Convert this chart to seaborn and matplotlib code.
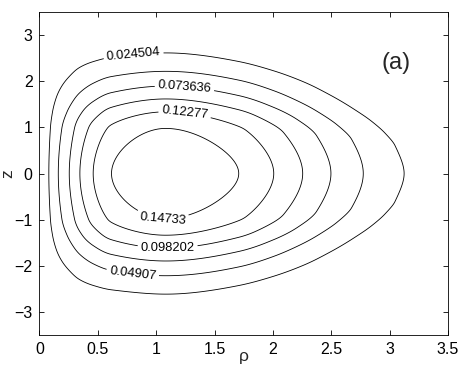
import numpy as np
import matplotlib
matplotlib.use("Agg")
import matplotlib.pyplot as plt
import seaborn as sns

# ---- data ----
levels = [0.024504, 0.04907, 0.073636, 0.098202, 0.12277, 0.14733]
psi_max = 0.1719
rho_axis = 1.08
# crossings of each contour with z = 0 (left / right of the axis)
rho_left = [0.080, 0.161, 0.255, 0.346, 0.460, 0.617]
rho_right = [3.124, 2.774, 2.497, 2.255, 2.007, 1.707]
# top height of each contour
z_top = [2.62, 2.22, 1.90, 1.62, 1.34, 0.98]
x_ticks = [0, 0.5, 1, 1.5, 2, 2.5, 3, 3.5]
x_ticklabels = ["0", "0.5", "1", "1.5", "2", "2.5", "3", "3.5"]
y_ticks = [-3, -2, -1, 0, 1, 2, 3]
# vertical narrowing of the contours on the outer side of the axis
narrow_start = 1.1
narrow_coef = 0.10


def pchip(x, y, xq):
    x = np.asarray(x, float)
    y = np.asarray(y, float)
    h = np.diff(x)
    d = np.diff(y) / h
    m = np.zeros_like(y)
    m[0], m[-1] = d[0], d[-1]
    for k in range(1, len(x) - 1):
        if d[k - 1] * d[k] <= 0:
            m[k] = 0.0
        else:
            w1 = 2 * h[k] + h[k - 1]
            w2 = h[k] + 2 * h[k - 1]
            m[k] = (w1 + w2) / (w1 / d[k - 1] + w2 / d[k])
    xq = np.asarray(xq, float)
    i = np.clip(np.searchsorted(x, xq) - 1, 0, len(x) - 2)
    t = (xq - x[i]) / h[i]
    h00 = 2 * t**3 - 3 * t**2 + 1
    h10 = t**3 - 2 * t**2 + t
    h01 = -2 * t**3 + 3 * t**2
    h11 = t**3 - t**2
    return h00 * y[i] + h10 * h[i] * m[i] + h01 * y[i + 1] + h11 * h[i] * m[i + 1]


frac = [lv / psi_max for lv in levels]
F_x = [0.0] + rho_left + [rho_axis] + rho_right[::-1] + [3.6]
F_y = [0.0] + frac + [1.0] + frac[::-1] + [0.06]
G_x = [-6.0, -3.6] + [-z for z in z_top] + [0.0] + z_top[::-1] + [3.6, 6.0]
G_y = [0.005, 0.025] + frac + [1.0] + frac[::-1] + [0.025, 0.005]

rho = np.linspace(0.0, 3.5, 600)
z = np.linspace(-3.5, 3.5, 800)
R, Z = np.meshgrid(rho, z)
w = 1 - narrow_coef * np.clip(R - narrow_start, 0, None) ** 2
F = np.clip(pchip(F_x, F_y, R), 0, 1)
G = np.clip(pchip(G_x, G_y, np.clip(Z / w, -6, 6)), 0, 1)
psi = psi_max * F * G

sns.set_style("ticks")
plt.rcParams["font.family"] = ["Liberation Sans", "DejaVu Sans"]

fig = plt.figure(figsize=(4.63, 3.76), dpi=100)
ax = fig.add_axes([0.0853, 0.110, 0.8823, 0.857])
cs = ax.contour(R, Z, psi, levels=levels, colors="k", linewidths=0.6)
label_pos = [(0.805, 2.60), (0.80, -2.134), (1.242, 1.866), (1.098, -1.664),
             (1.244, 1.30), (1.058, -0.868)]
ax.clabel(cs, fmt={lv: f"{lv:g}" for lv in levels}, manual=label_pos,
          fontsize=9.3, inline=True, inline_spacing=3)

ax.set_xlim(0, 3.5)
ax.set_ylim(-3.5, 3.5)
ax.set_xticks(x_ticks)
ax.set_xticklabels(x_ticklabels)
ax.set_yticks(y_ticks)
ax.tick_params(direction="in", length=3.5, width=0.6, top=True, right=True,
               labelsize=11.5, colors="k", pad=5)
for sp in ax.spines.values():
    sp.set_linewidth(0.6)
    sp.set_color("k")
ax.set_xlabel("ρ", fontsize=12.5)
ax.xaxis.set_label_coords(0.5, -0.045)
ax.set_ylabel("z", fontsize=12.5)
ax.yaxis.set_label_coords(-0.06, 0.5)
ax.text(3.053, 2.41, "(a)", fontsize=17, ha="center", va="center")

fig.savefig("out.png", dpi=100)
